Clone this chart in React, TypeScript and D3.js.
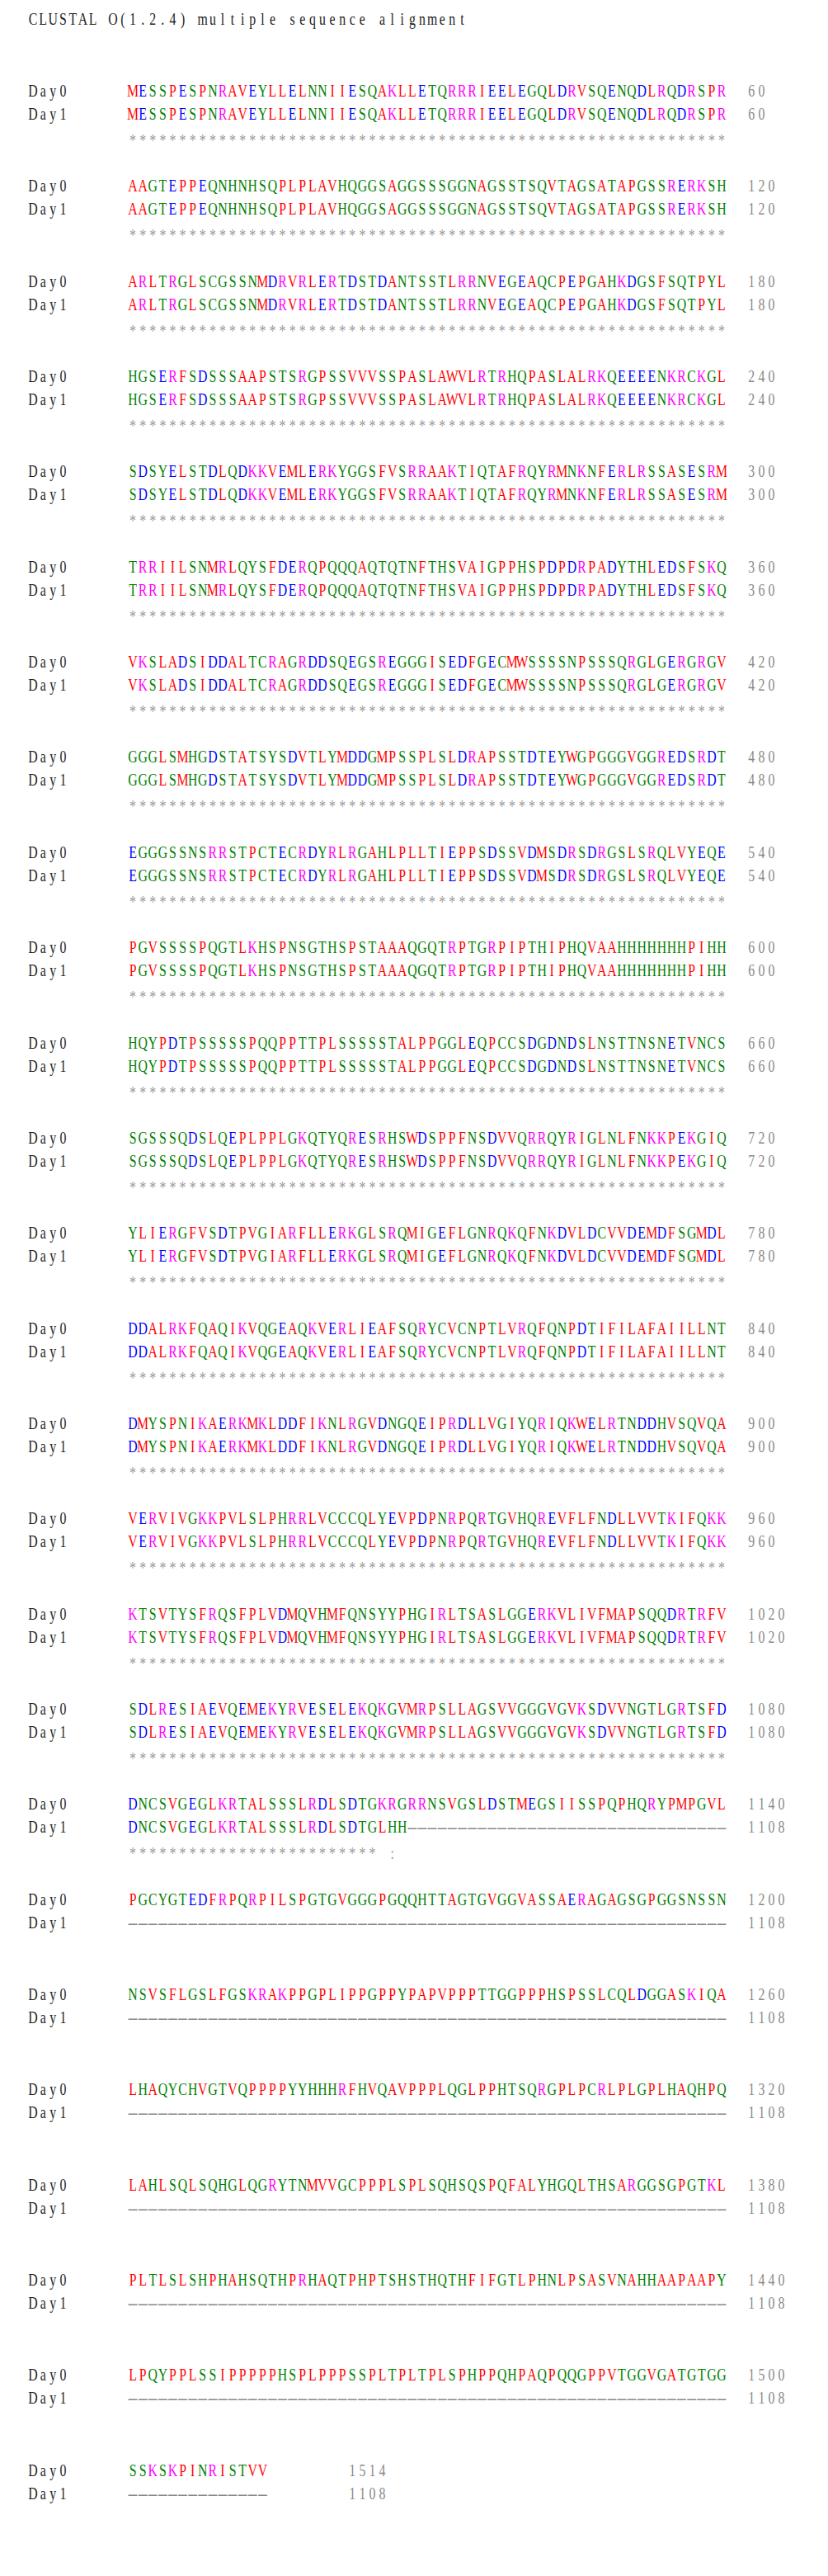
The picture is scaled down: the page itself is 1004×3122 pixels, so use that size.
import React from 'react'
import * as d3 from 'd3'

const title = 'CLUSTAL O(1.2.4) multiple sequence alignment'
const names = ['Day0', 'Day1']

// Day0 sequence, one string per 60-residue block
const day0Blocks = [
  'MESSPESPNRAVEYLLELNNIIESQAKLLETQRRRIEELEGQLDRVSQENQDLRQDRSPR',
  'AAGTEPPEQNHNHSQPLPLAVHQGGSAGGSSSGGNAGSSTSQVTAGSATAPGSSRERKSH',
  'ARLTRGLSCGSSNMDRVRLERTDSTDANTSSTLRRNVEGEAQCPEPGAHKDGSFSQTPYL',
  'HGSERFSDSSSAAPSTSRGPSSVVVSSPASLAWVLRTRHQPASLALRKQEEEENKRCKGL',
  'SDSYELSTDLQDKKVEMLERKYGGSFVSRRAAKTIQTAFRQYRMNKNFERLRSSASESRM',
  'TRRIILSNMRLQYSFDERQPQQQAQTQTNFTHSVAIGPPHSPDPDRPADYTHLEDSFSKQ',
  'VKSLADSIDDALTCRAGRDDSQEGSREGGGISEDFGECMWSSSSNPSSSQRGLGERGRGV',
  'GGGLSMHGDSTATSYSDVTLYMDDGMPSSPLSLDRAPSSTDTEYWGPGGGVGGREDSRDT',
  'EGGGSSNSRRSTPCTECRDYRLRGAHLPLLTIEPPSDSSVDMSDRSDRGSLSRQLVYEQE',
  'PGVSSSSPQGTLKHSPNSGTHSPSTAAAQGQTRPTGRPIPTHIPHQVAAHHHHHHHPIHH',
  'HQYPDTPSSSSSPQQPPTTPLSSSSSTALPPGGLEQPCCSDGDNDSLNSTTNSNETVNCS',
  'SGSSSQDSLQEPLPPLGKQTYQRESRHSWDSPPFNSDVVQRRQYRIGLNLFNKKPEKGIQ',
  'YLIERGFVSDTPVGIARFLLERKGLSRQMIGEFLGNRQKQFNKDVLDCVVDEMDFSGMDL',
  'DDALRKFQAQIKVQGEAQKVERLIEAFSQRYCVCNPTLVRQFQNPDTIFILAFAIILLNT',
  'DMYSPNIKAERKMKLDDFIKNLRGVDNGQEIPRDLLVGIYQRIQKWELRTNDDHVSQVQA',
  'VERVIVGKKPVLSLPHRRLVCCCQLYEVPDPNRPQRTGVHQREVFLFNDLLVVTKIFQKK',
  'KTSVTYSFRQSFPLVDMQVHMFQNSYYPHGIRLTSASLGGERKVLIVFMAPSQQDRTRFV',
  'SDLRESIAEVQEMEKYRVESELEKQKGVMRPSLLAGSVVGGGVGVKSDVVNGTLGRTSFD',
  'DNCSVGEGLKRTALSSSLRDLSDTGKRGRRNSVGSLDSTMEGSIISSPQPHQRYPMPGVL',
  'PGCYGTEDFRPQRPILSPGTGVGGGPGQQHTTAGTGVGGVASSAERAGAGSGPGGSNSSN',
  'NSVSFLGSLFGSKRAKPPGPLIPPGPPYPAPVPPPTTGGPPPHSPSSLCQLDGGASKIQA',
  'LHAQYCHVGTVQPPPPYYHHHRFHVQAVPPPLQGLPPHTSQRGPLPCRLPLGPLHAQHPQ',
  'LAHLSQLSQHGLQGRYTNMVVGCPPPLSPLSQHSQSPQFALYHGQLTHSARGGSGPGTKL',
  'PLTLSLSHPHAHSQTHPRHAQTPHPTSHSTHQTHFIFGTLPHNLPSASVNAHHAAPAAPY',
  'LPQYPPLSSIPPPPPHSPLPPPSSPLTPLTPLSPHPPQHPAQPQQGPPVTGGVGATGTGG',
  'SSKSKPINRISTVV',
]
// Day1 shares the first 1105 residues, then ends with LHH (1108)
const day1Shared = 1105
const day1Tail = 'LHH'

const strongGroups = ['STA', 'NEQK', 'NHQK', 'NDEQ', 'QHRK', 'MILV', 'MILF', 'HY', 'FYW']
const weakGroups = ['CSA', 'ATV', 'SAG', 'STNK', 'STPA', 'SGND', 'SNDEQK', 'NDEQHK', 'NEQHRK', 'FVLIM', 'HFY']

const colorOf = (c: string) => {
  if ('AVFPMILW'.includes(c)) return '#ff0000'
  if ('DE'.includes(c)) return '#0000ff'
  if ('RK'.includes(c)) return '#ff00ff'
  if ('STYHCNGQ'.includes(c)) return '#008000'
  return '#808080'
}

const consChar = (a: string, b: string) => {
  if (a === '-' || b === '-') return ' '
  if (a === b) return '*'
  if (strongGroups.some(g => g.includes(a) && g.includes(b))) return ':'
  if (weakGroups.some(g => g.includes(a) && g.includes(b))) return '.'
  return ' '
}

const cw = 12.1
const col = d3.scaleLinear().domain([0, 1]).range([34, 34 + cw])
const blockY = d3.scaleLinear().domain([0, 1]).range([117, 117 + 115.35])

const Chars = ({ s, c0, y, fill }: { s: string; c0: number; y: number; fill?: (ch: string) => string }) => (
  <g>
    {s.split('').map((ch, i) =>
      ch === ' ' ? null : (
        <text key={i} transform={`translate(${col(c0 + i + 0.5)},${y}) scale(${ch === '-' ? 1.9 : 0.72},1)`}
          textAnchor="middle" fill={fill ? fill(ch) : '#222'}>{ch}</text>
      ))}
  </g>
)

export default function App() {
  const day0 = day0Blocks.join('')
  const day1 = day0.slice(0, day1Shared) + day1Tail
  let n0 = 0
  let n1 = 0
  return (
    <svg width={1004} height={3122} style={{ position: 'absolute', left: 0, top: 0, background: '#fff' }}
      fontFamily="'Liberation Serif', serif" fontSize={22}>
      <Chars s={title} c0={0} y={30} />
      {day0Blocks.map((b0, k) => {
        const start = n0
        const s0 = b0
        const s1 = Array.from({ length: s0.length }, (_, i) => day1[start + i] ?? '-').join('')
        n0 += s0.length
        n1 += s1.replace(/-/g, '').length
        const cons = s0.split('').map((c, i) => consChar(c, s1[i])).join('')
        const y = blockY(k)
        const numCol = s0.length === 60 ? 72 : 32
        const grey = (ch: string) => (ch === '-' ? '#888' : colorOf(ch))
        return (
          <g key={k}>
            <Chars s={names[0]} c0={0} y={y} />
            <Chars s={names[1]} c0={0} y={y + 28} />
            <Chars s={s0} c0={10} y={y} fill={grey} />
            <Chars s={s1} c0={10} y={y + 28} fill={grey} />
            <Chars s={String(n0)} c0={numCol} y={y} fill={() => '#888'} />
            <Chars s={String(n1)} c0={numCol} y={y + 28} fill={() => '#888'} />
            {cons.trim() && <Chars s={cons} c0={10} y={y + 60} fill={() => '#999'} />}
          </g>
        )
      })}
    </svg>
  )
}
